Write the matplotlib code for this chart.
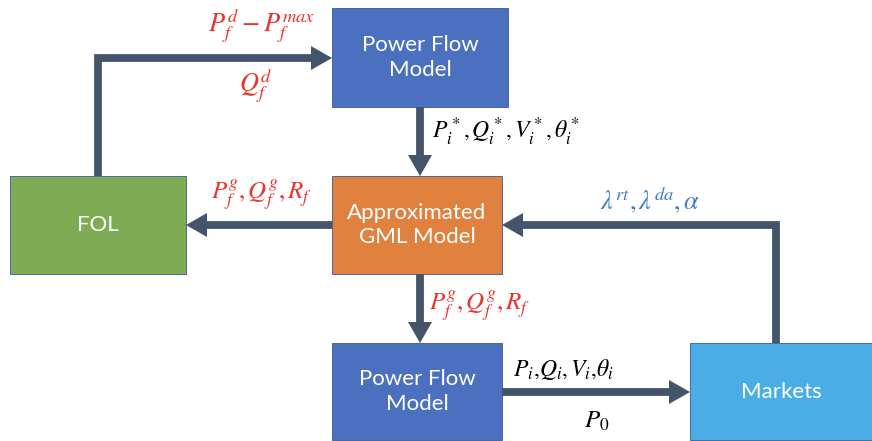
import matplotlib.pyplot as plt
from matplotlib.patches import Rectangle, Polygon

plt.rcParams['mathtext.fontset'] = 'stix'

# boxes: label, colour, (x0, y0, x1, y1) in pixel coords
box_labels = ['Power Flow\nModel', 'Approximated\nGML Model', 'FOL', 'Power Flow\nModel', 'Markets']
box_colors = ['#4A70BF', '#E0813F', '#7EAB53', '#4A70BF', '#4BADE6']
box_extents = [(332, 8, 508, 107), (332, 176, 502, 274), (10, 176, 186, 274),
               (332, 343, 502, 440), (690, 343, 872, 440)]

# arrow labels
red = '#E8342C'
edge_labels = [r'$P_f^d - P_f^{max}$', r'$Q_f^d$', r'$P_i^*{,}\,Q_i^*{,}\,V_i^*{,}\,\theta_i^*$',
               r'$P_f^g{,}\,Q_f^g{,}\,R_f$', r'$P_f^g{,}\,Q_f^g{,}\,R_f$',
               r'$\lambda^{rt}{,}\,\lambda^{da}{,}\,\alpha$',
               r'$P_i{,}Q_i{,}\,V_i{,}\theta_i$', r'$P_0$']
label_colors = [red, red, 'black', red, red, '#3E7EC4', 'black', 'black']
label_sizes = [19, 19, 17, 18, 18, 19, 17, 18]

arrow_col = '#44546A'

fig = plt.figure(figsize=(8.72, 4.41), dpi=100)
ax = fig.add_axes([0, 0, 1, 1])
ax.set_xlim(0, 872)
ax.set_ylim(441, 0)
ax.axis('off')

for lab, col, (x0, y0, x1, y1) in zip(box_labels, box_colors, box_extents):
    ax.add_patch(Rectangle((x0, y0), x1 - x0, y1 - y0, facecolor=col,
                           edgecolor='#3A5A94', linewidth=0.6))
    ax.text((x0 + x1) / 2, (y0 + y1) / 2, lab, color='white', fontsize=16,
            family='Lato', ha='center', va='center', linespacing=1.3)


def arrow(xs, ys):
    # shaft stops at the base of the head
    hl, hw = 21, 12
    dx, dy = xs[-1] - xs[-2], ys[-1] - ys[-2]
    n = (dx ** 2 + dy ** 2) ** 0.5
    ux, uy = dx / n, dy / n
    bx, by = xs[-1] - ux * hl, ys[-1] - uy * hl
    ax.plot(list(xs[:-1]) + [bx + ux], list(ys[:-1]) + [by + uy], color=arrow_col,
            linewidth=5.6, solid_capstyle='butt', solid_joinstyle='miter')
    px, py = -uy, ux
    ax.add_patch(Polygon([(xs[-1], ys[-1]), (bx + px * hw, by + py * hw),
                          (bx - px * hw, by - py * hw)], closed=True,
                         facecolor=arrow_col, edgecolor='none'))


arrow([98, 98, 332], [176, 58, 58])
arrow([420, 420], [107, 176])
arrow([332, 186], [225, 225])
arrow([420, 420], [274, 343])
arrow([502, 690], [392, 392])
arrow([776, 776, 502], [343, 225, 225])

label_pos = [(262, 26, 'center'), (256, 86, 'center'), (432, 132, 'left'),
             (262, 195, 'center'), (429, 306, 'left'), (650, 200, 'center'),
             (513, 369, 'left'), (597, 421, 'center')]
for txt, col, sz, (x, y, ha) in zip(edge_labels, label_colors, label_sizes, label_pos):
    ax.text(x, y, txt, color=col, fontsize=sz, ha=ha, va='center')

fig.savefig('out.png', dpi=100)
